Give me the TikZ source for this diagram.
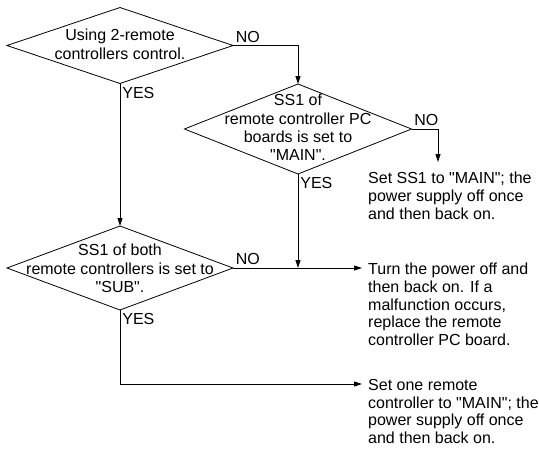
\documentclass[tikz,border=0pt]{standalone}
\usepackage{fontspec}
\setmainfont{Liberation Sans}[Ligatures=TeXOff]
\usetikzlibrary{positioning,arrows.meta,shapes.geometric,calc}
\newcommand{\dlines}[2][-6pt]{\smash{\raisebox{#1}{\makebox[0pt]{\begin{tabular}{@{}c@{}}#2\end{tabular}}}}}

\begin{document}
\begin{tikzpicture}[
  x=1pt, y=-1pt,
  font={\fontsize{16}{18.4}\selectfont},
  decision/.style={draw, diamond, inner sep=0pt, outer sep=0pt, minimum width=226pt, line width=0.8pt},
  result/.style={align=left, inner sep=0pt, anchor=north west, font={\fontsize{16}{17.7}\selectfont}},
  flow/.style={-{Triangle[length=8pt,width=5pt]}, line width=0.8pt},
  no/.style={anchor=south west, inner sep=2.5pt},
  yes/.style={anchor=north west, inner sep=2pt, yshift=-1pt},
]
\useasboundingbox (0,0) rectangle (539,448);
% --- decisions ---
\node[decision, minimum height=76pt] (d1) at (120,45.5) {\dlines[-5pt]{Using 2-remote\\controllers control.}};
\node[decision, minimum height=90pt, minimum width=227pt] (d2) at (298,129) {\dlines[-5pt]{SS1 of\\remote controller PC\\boards is set to\\"MAIN".}};
\node[decision, minimum height=84pt] (d3) at (120,268) {\dlines[-7pt]{SS1 of both\\remote controllers is set to\\"SUB".}};
% --- results ---
\node[result] (r1) at (368,172) {Set SS1 to "MAIN"; the\\power supply off once\\and then back on.};
\node[result] (r2) at (368,263) {Turn the power off and\\then back on. If a\\malfunction occurs,\\replace the remote\\controller PC board.};
\node[result] (r3) at (368,379) {Set one remote\\controller to "MAIN"; the\\power supply off once\\and then back on.};
\coordinate (r1in) at ($(r1.north west)+(70,-10)$);
\coordinate (r3in) at ($(r3.north west)+(0,5)$);
% --- connectors ---
\draw[flow] (d1.east) -| (d2.north) node[no, pos=0] {NO};
\draw[flow] (d1.south) -- (d3.north) node[yes, pos=0] {YES};
\draw[flow] (d2.east) -| (r1in) node[no, pos=0] {NO};
\draw[flow] (d2.south) -- (d2.south |- d3.east) node[yes, pos=0] {YES};
\draw[flow, shorten >=6pt] (d3.east) -- (d3.east -| r2.west) node[no, pos=0] {NO};
\draw[flow, shorten >=6pt] (d3.south) |- (r3in) node[yes, pos=0] {YES};
\end{tikzpicture}
\end{document}
